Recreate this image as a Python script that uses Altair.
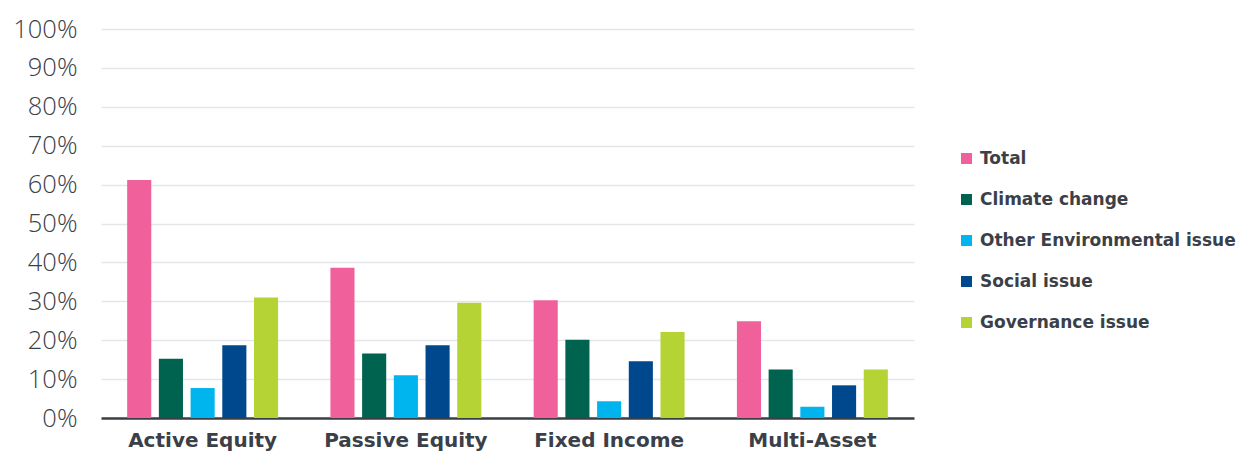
import altair as alt
import pandas as pd

categories = ["Active Equity", "Passive Equity", "Fixed Income", "Multi-Asset"]
series = ["Total", "Climate change", "Other Environmental issue", "Social issue", "Governance issue"]
colors = ["#F0609A", "#00634F", "#00B5EE", "#00488E", "#B5D334"]
values = {
    "Total": [61.2, 38.6, 30.3, 24.9],
    "Climate change": [15.2, 16.6, 20.1, 12.5],
    "Other Environmental issue": [7.7, 11.0, 4.3, 2.9],
    "Social issue": [18.7, 18.7, 14.6, 8.4],
    "Governance issue": [31.0, 29.6, 22.1, 12.5],
}

rows = []
for s in series:
    for c, v in zip(categories, values[s]):
        rows.append({"category": c, "series": s, "value": v / 100})
df = pd.DataFrame(rows)

text_color = "#3B4048"
bold_font = "DejaVu Sans"
light_font = "Open Sans"

chart = alt.Chart(df).mark_bar().encode(
    x=alt.X("category:N", sort=categories, title=None,
            scale=alt.Scale(paddingInner=0.22, paddingOuter=0.11),
            axis=alt.Axis(labelAngle=0, labelFontSize=20, labelFontWeight="bold",
                          labelColor=text_color, labelPadding=12, ticks=False,
                          domainColor="#3A3F44", domainWidth=2.5, grid=False,
                          labelFont=bold_font)),
    xOffset=alt.XOffset("series:N", sort=series,
                        scale=alt.Scale(paddingInner=0.24, paddingOuter=0.12)),
    y=alt.Y("value:Q", title=None,
            scale=alt.Scale(domain=[0, 1]),
            axis=alt.Axis(format=".0%", values=[i / 10 for i in range(11)],
                          labelFontSize=25.5, labelFontWeight=300, labelColor=text_color,
                          labelFont=light_font, ticks=False, domain=False, labelPadding=24,
                          gridColor="#E4E6EA", gridWidth=1.3)),
    color=alt.Color("series:N", sort=series,
                    scale=alt.Scale(domain=series, range=colors),
                    legend=alt.Legend(title=None, orient="none", legendX=857, legendY=121,
                                      symbolType="square", symbolSize=120,
                                      symbolStrokeWidth=0, labelFontSize=17,
                                      labelFontWeight="bold", labelColor=text_color,
                                      labelFont=bold_font, rowPadding=23, labelOffset=5,
                                      labelLimit=400)),
).properties(
    width=813, height=389,
    padding={"left": 93, "top": 21, "right": 326, "bottom": 33},
    autosize=alt.AutoSizeParams(type="none"),
).configure_view(stroke=None)

chart.save("out.html", embed_options={"renderer": "svg", "actions": False})
